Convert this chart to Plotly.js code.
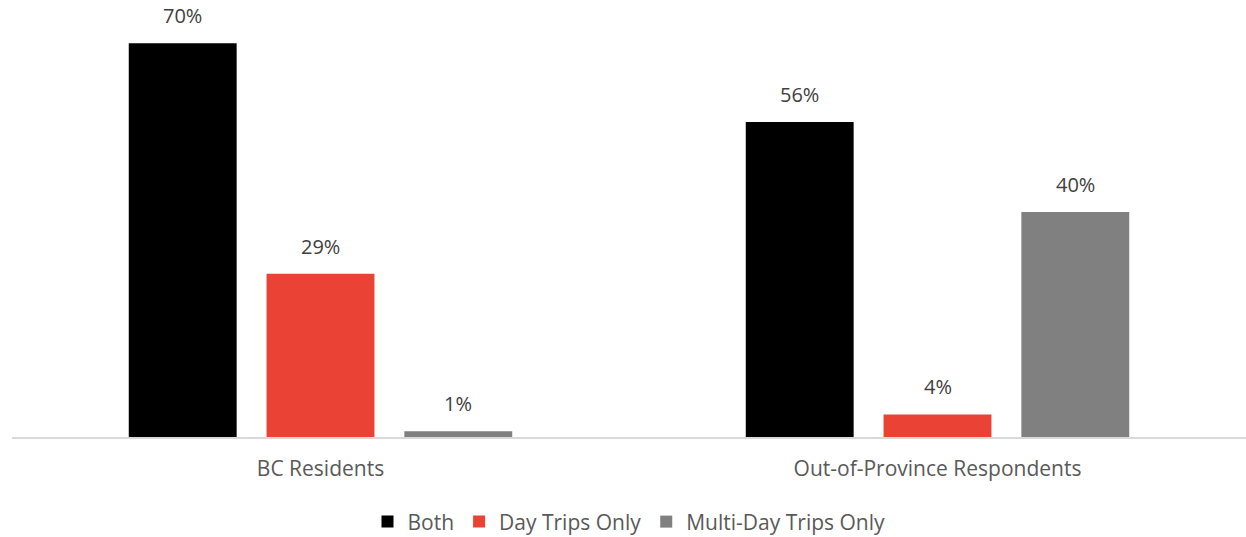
<!DOCTYPE html>
<html><head><meta charset="utf-8">
<script src="https://cdn.plot.ly/plotly-3.0.1.min.js"></script>
<style>html,body{margin:0;padding:0;background:#fff}#c{width:1246px;height:537px}</style>
</head><body><div id="c"></div>
<script>
const categories = ["BC Residents", "Out-of-Province Respondents"];
const seriesNames = ["Both", "Day Trips Only", "Multi-Day Trips Only"];
const both = [70, 56];
const dayTrips = [29, 4];
const multiDay = [1, 40];
const colors = ["#000000", "#EA4335", "#808080"];
const values = [both, dayTrips, multiDay];

const BARGAP = 0.33;
const nSeries = values.length;
const slot = (1 - BARGAP) / nSeries;

const traces = values.map((v, i) => ({
  type: "bar",
  name: seriesNames[i],
  x: categories,
  y: v,
  marker: {color: colors[i]},
  hoverinfo: "none"
}));

// Data labels positioned in data coordinates at each bar's centre
const annotations = [];
values.forEach((v, i) => {
  v.forEach((d, c) => {
    annotations.push({
      x: c + (i - (nSeries - 1) / 2) * slot,
      y: d,
      xref: "x", yref: "y",
      text: d + "%",
      showarrow: false,
      yanchor: "bottom",
      yshift: 12,
      font: {color: "#404040", size: 20}
    });
  });
});

Plotly.newPlot("c", traces, {
  width: 1246, height: 537,
  margin: {l: 12, r: 0, t: 15, b: 100},
  paper_bgcolor: "#fff", plot_bgcolor: "#fff",
  font: {family: "Open Sans, Liberation Sans, sans-serif", color: "#595959", size: 20},
  barmode: "group",
  bargap: BARGAP,
  bargroupgap: 0.217,
  xaxis: {showline: true, linecolor: "#d9d9d9", linewidth: 2, ticks: "outside", ticklen: 12, tickcolor: "rgba(0,0,0,0)", tickfont: {size: 21, color: "#595959"}, showgrid: false},
  yaxis: {range: [0, 75], visible: false, showgrid: false, zeroline: false},
  annotations: annotations,
  showlegend: true,
  legend: {orientation: "h", x: 0.5, xanchor: "center", yref: "container", y: 0.028, yanchor: "middle", font: {size: 21, color: "#595959"}, itemwidth: 30, traceorder: "normal"}
}, {displayModeBar: false, staticPlot: true});
</script></body></html>
